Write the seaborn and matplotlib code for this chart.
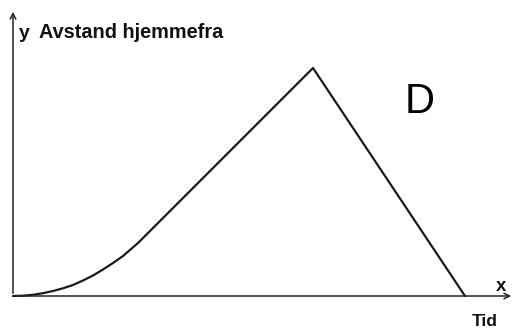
import matplotlib
matplotlib.use("Agg")
import matplotlib.pyplot as plt
import seaborn as sns
import pandas as pd

sns.set_theme(style="white")
plt.rcParams['font.family'] = ['Liberation Sans', 'DejaVu Sans']

# distance from home over time (arbitrary units)
tid = [0, 10, 20, 30, 40, 50, 60, 70, 80, 90, 100, 110, 125, 300, 452]
avstand = [0, 0.3, 1.2, 2.8, 5, 7.7, 11, 15.5, 20.5, 26.5, 33, 40, 53, 228, 0]

fig = plt.figure(figsize=(5.16, 3.29), dpi=100)
ax = fig.add_axes([0, 0, 1, 1])

data = pd.DataFrame({'Tid': tid, 'Avstand': avstand})
sns.lineplot(data=data, x='Tid', y='Avstand', sort=False, color='#1a1a1a',
             linewidth=1.6, ax=ax)

ax.set_xlim(-13, 503)
ax.set_ylim(-33, 296)
ax.axis('off')

# axes with arrow heads
arrow = dict(arrowstyle='->', color='#222222', lw=1.1, mutation_scale=10)
ax.annotate('', xy=(0, 287), xytext=(0, 0), arrowprops=arrow)
ax.annotate('', xy=(501, 0), xytext=(0, 0), arrowprops=arrow)

txt = dict(fontweight='bold', color='#111111', va='baseline')
ax.text(6, 258, 'y', fontsize=14, **txt)
ax.text(26, 258, 'Avstand hjemmefra', fontsize=14.3, **txt)
ax.text(483, 5, 'x', fontsize=13.5, **txt)
ax.text(459, -30, 'Tid', fontsize=12.5, **txt)
ax.text(392, 183, 'D', fontsize=30, color='black', va='baseline')

fig.savefig('out.png', dpi=100)
